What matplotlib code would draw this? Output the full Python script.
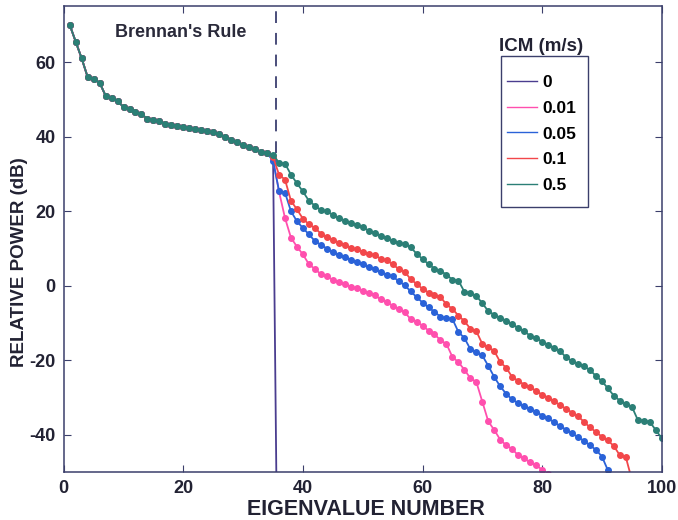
import numpy as np
import matplotlib
matplotlib.use("Agg")
import matplotlib.pyplot as plt
from matplotlib.patches import Rectangle

plt.rcParams['font.family'] = ['Liberation Sans', 'DejaVu Sans']
plt.rcParams['font.weight'] = 'bold'
plt.rcParams['axes.unicode_minus'] = False

# eigenvalue index
n = np.arange(1, 101)

# common part of the spectrum (eigenvalues 1..35)
common = [70, 65.5, 61, 56, 55.5, 54.5, 51, 50.5, 49.5, 48,
          47.5, 46.5, 46, 44.8, 44.5, 44.2, 43.5, 43.2, 43, 42.6,
          42.3, 42, 41.8, 41.5, 41.2, 40.6, 40, 39.2, 38.5, 37.7,
          37.2, 36.6, 36, 35.6, 35.2]

# ICM = 0.5 m/s, eigenvalues 36..100
tail_05 = [33, 32.8, 29.8, 27.5, 25.3, 22.8, 21.5, 20.3, 20, 19,
           18.2, 17.5, 16.9, 16.3, 15.7, 14.8, 14.2, 13.4, 12.7, 12,
           11.6, 11.2, 10.4, 8.6, 7.2, 5.8, 4.6, 4, 3, 1.6,
           1.4, -1.6, -2, -2.7, -4.7, -6.8, -7.8, -8.6, -9.4, -10.3,
           -11.3, -12.2, -13.4, -14, -15, -15.8, -16.6, -17.5, -19.2, -20.2,
           -20.9, -21.6, -22.6, -24.2, -25.6, -27.5, -29.5, -30.8, -31.7, -32.4,
           -36, -36.2, -36.5, -38.7, -40.9]

# ICM = 0.1 m/s
tail_01 = [29.8, 28.5, 22.8, 20.5, 18, 16.5, 15.5, 14, 13, 12.3,
           11.6, 10.9, 10.2, 9.8, 9.2, 8.6, 8.2, 7.3, 6.8, 5.8,
           4.5, 3.8, 1.8, 0.5, -0.8, -1.8, -2.5, -3, -5, -6.2,
           -8, -9.5, -11.5, -12.2, -15.6, -16.5, -17.5, -20.5, -22, -24.5,
           -25.5, -26.5, -27.2, -28.2, -29.2, -30, -31, -32, -33, -34,
           -35, -36.5, -38, -39.2, -40.5, -41.5, -43, -45.5, -46, -52,
           -60, -65, -70, -75, -80]

# ICM = 0.05 m/s
tail_005 = [25.5, 25, 20, 17.3, 15.5, 13.8, 12, 11, 10, 9,
            8.3, 7.6, 7, 6.3, 5.8, 5, 4.5, 3.6, 3, 2.6,
            1.2, 0.2, -1.5, -3, -4.5, -5.8, -7, -8.3, -8.7, -8.9,
            -12.4, -14, -17, -17.8, -18.7, -21.5, -24.5, -27, -29, -30.5,
            -31.5, -32.3, -33, -33.8, -34.8, -35.6, -36.6, -37.6, -38.6, -39.6,
            -40.6, -41.6, -42.8, -44, -45.8, -49.5, -56, -62, -68, -74,
            -80, -85, -90, -95, -100]

# ICM = 0.01 m/s
tail_001 = [25.3, 18.2, 12.9, 10.5, 8.4, 5.8, 4.5, 3.1, 2.5, 1.6,
            1, 0.4, -0.2, -0.7, -1.3, -2, -2.6, -3.6, -4.4, -5.3,
            -6.2, -7.1, -8.9, -9.6, -10.7, -12, -13, -14.6, -15.6, -19.1,
            -20.5, -22.5, -24.8, -25.8, -31.1, -36.4, -38.7, -41.3, -42.8, -43.8,
            -45.5, -46.3, -47.4, -48.2, -49.3, -50.5, -52, -55, -60, -65,
            -70, -75, -80, -85, -90, -95, -100, -105, -110, -115,
            -120, -125, -130, -135, -140]

# ICM = 0: rank-deficient, noise floor below the axis
tail_0 = [-120] * 65

icm_labels = ['0', '0.01', '0.05', '0.1', '0.5']
icm_colors = ['#4a3d8f', '#ff4fae', '#2a62d8', '#f2474a', '#2b7f76']

series = [common + tail_0,
          common[:34] + [34.0] + tail_001,
          common[:34] + [33.5] + tail_005,
          common[:34] + [34.6] + tail_01,
          common + tail_05]

fig = plt.figure(figsize=(6.78, 5.2), dpi=100)
ax = fig.add_axes([0.094, 0.092, 0.882, 0.896])

for vals, lab, col in zip(series, icm_labels, icm_colors):
    if lab == '0':
        ax.plot(n, vals, '-', color=col, lw=1.3, label=lab)
    else:
        ax.plot(n, vals, '-o', color=col, lw=1.3, ms=4.0, mec=col, label=lab)

# Brennan's rule marker
ax.plot([35.5, 35.5], [35.5, 75], '--', color='#3b3f70', lw=1.3, dashes=(6.5, 5.5))
ax.text(19.5, 68, "Brennan's Rule", fontsize=13, fontweight='bold',
        color='#2a2a3a', ha='center', va='center')

ax.set_xlim(0, 100)
ax.set_ylim(-50, 75)
ax.set_xticks([0, 20, 40, 60, 80, 100])
ax.set_yticks([-40, -20, 0, 20, 40, 60])
ax.tick_params(direction='in', top=True, right=True, labelsize=13,
               colors='#3b3f6b', labelcolor='#222233', length=5, pad=6)
for lab in ax.get_xticklabels() + ax.get_yticklabels():
    lab.set_fontweight('bold')
for sp in ax.spines.values():
    sp.set_color('#3b3f6b')
    sp.set_linewidth(1.1)

ax.set_xlabel('EIGENVALUE NUMBER', fontsize=15.5, fontweight='bold',
              color='#222233')
ax.set_ylabel('RELATIVE POWER (dB)', fontsize=13.5, fontweight='bold',
              color='#222233')
ax.xaxis.set_label_coords(0.505, -0.058)
ax.yaxis.set_label_coords(-0.059, 0.45)

# legend: entries without frame, box drawn by hand, title above the box
leg = ax.legend(loc='upper left', bbox_to_anchor=(0.732, 0.863),
                frameon=False, handlelength=1.75,
                fontsize=12.5, labelspacing=0.6, borderpad=0.3,
                handletextpad=0.3, borderaxespad=0)
for t in leg.get_texts():
    t.set_fontweight('bold')
for h in leg.get_lines():
    h.set_marker('')
    h.set_linewidth(1.0)
ax.add_patch(Rectangle((0.732, 0.569), 0.144, 0.324, transform=ax.transAxes,
                       fill=False, edgecolor='#3b3f6b', lw=1.0, zorder=6))
ax.text(0.799, 0.913, 'ICM (m/s)', transform=ax.transAxes, fontsize=13.5,
        fontweight='bold', color='#222233', ha='center', va='center')

fig.savefig('out.png', dpi=100)
